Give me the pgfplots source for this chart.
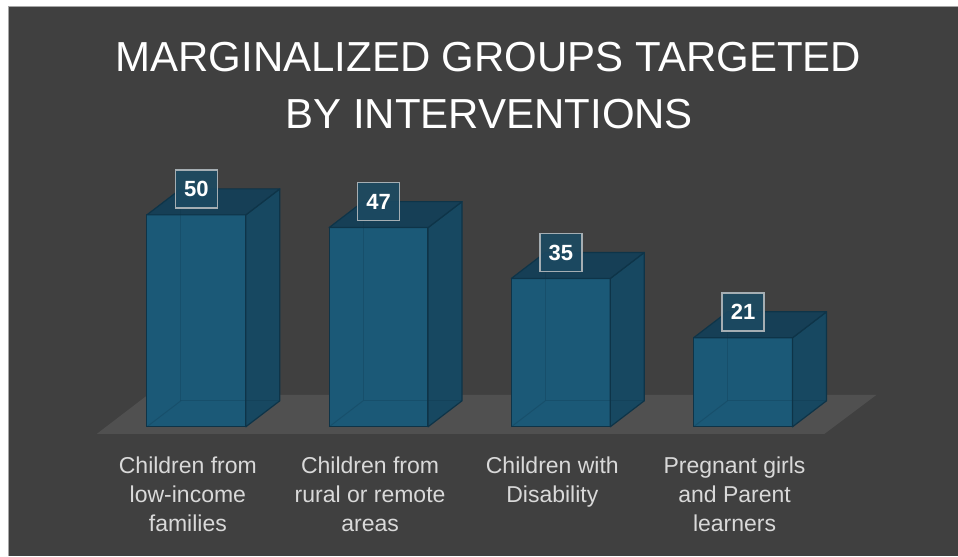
\documentclass[border=0pt]{standalone}
\usepackage{pgfplots}
\pgfplotsset{compat=1.18}
\usepackage{pgfplotstable}
\usepackage{fontspec}
\setmainfont{Liberation Sans}
\definecolor{bgc}{HTML}{404040}
\definecolor{floorc}{HTML}{505050}
\definecolor{frontc}{HTML}{1B5977}
\definecolor{sidec}{HTML}{174861}
\definecolor{topc}{HTML}{163F56}
\definecolor{edgec}{HTML}{0E3448}
\definecolor{labc}{HTML}{D9D9D9}
\definecolor{boxc}{HTML}{1C4A62}
\definecolor{boxline}{HTML}{A5AEB3}
\pgfplotstableread{
x v
0 50
1 47
2 35
3 21
}\datatable
\begin{document}
\begin{tikzpicture}[x=1bp,y=1bp]
\fill[white] (0,0) rectangle (958,556);
\fill[bgc] (8,0) rectangle (958,550);
\draw[gray!70, line width=1bp] (8.5,0) -- (8.5,549.5) -- (958,549.5);
\fill[floorc] (97,122) -- (825,122) -- (877,161) -- (148,161) -- cycle;
\node[anchor=base, inner sep=0pt, text=white, font=\fontsize{42bp}{50bp}\selectfont] at (488.5,484) {MARGINALIZED GROUPS TARGETED};
\node[anchor=base, inner sep=0pt, text=white, font=\fontsize{42bp}{50bp}\selectfont] at (489.5,427) {BY INTERVENTIONS};
\begin{axis}[
  at={(105.3bp,129bp)}, anchor=south west,
  scale only axis, width=729.3bp, height=424bp,
  xmin=-0.5, xmax=3.5, ymin=0, ymax=100,
  disabledatascaling,
  clip=false,
  axis line style={draw=none},
  major tick length=0pt,
  ytick=\empty,
  xtick=data,
  xticklabels={{Children from\\low-income\\families},{Children from\\rural or remote\\areas},{Children with\\Disability},{Pregnant girls\\and Parent\\learners}},
  xticklabel style={align=center, anchor=north, inner sep=0pt, text=labc, font=\fontsize{23bp}{29bp}\selectfont, yshift=-30bp, xshift=-8.5bp},
]
\addplot[ybar, bar shift=0pt, bar width=99bp, fill=frontc, draw=edgec, line width=1.2bp] table[x=x,y=v]{\datatable};
\addplot[scatter, only marks, mark=*, mark size=0.5pt,
  visualization depends on={rawy \as \val},
  scatter/@pre marker code/.code={%
    \pgfmathsetmacro\h{\val*\pgfplotsunitylength}%
    \pgfmathsetmacro\hb{-\h+26.09}%
    \filldraw[fill=sidec, draw=edgec, line width=1.2bp, line join=round] (49.5bp,-\h pt) -- (49.5bp,0pt) -- (83.5bp,26bp) -- (83.5bp,\hb pt) -- cycle;
    \filldraw[fill=topc, draw=edgec, line width=1.2bp, line join=round] (-49.5bp,0pt) -- (49.5bp,0pt) -- (83.5bp,26bp) -- (-15.5bp,26bp) -- cycle;
    \draw[edgec, opacity=0.25, line width=1bp] (-15.5bp,26bp) -- (-15.5bp,\hb pt) -- (83.5bp,\hb pt);
    \draw[edgec, opacity=0.25, line width=1bp] (-49.5bp,-\h pt) -- (-15.5bp,\hb pt);
    \node[draw=boxline, fill=boxc, fill opacity=0.9, text opacity=1, line width=1.5bp, minimum width=42bp, minimum height=38bp, inner sep=0pt, text=white, font=\bfseries\fontsize{22bp}{22bp}\selectfont] at (0bp,26bp) {\pgfmathprintnumber[fixed,precision=0,assume math mode=true]{\val}};
    \scope[opacity=0]},
  scatter/@post marker code/.code={\endscope}
] table[x=x,y=v]{\datatable};
\end{axis}
\end{tikzpicture}
\end{document}
